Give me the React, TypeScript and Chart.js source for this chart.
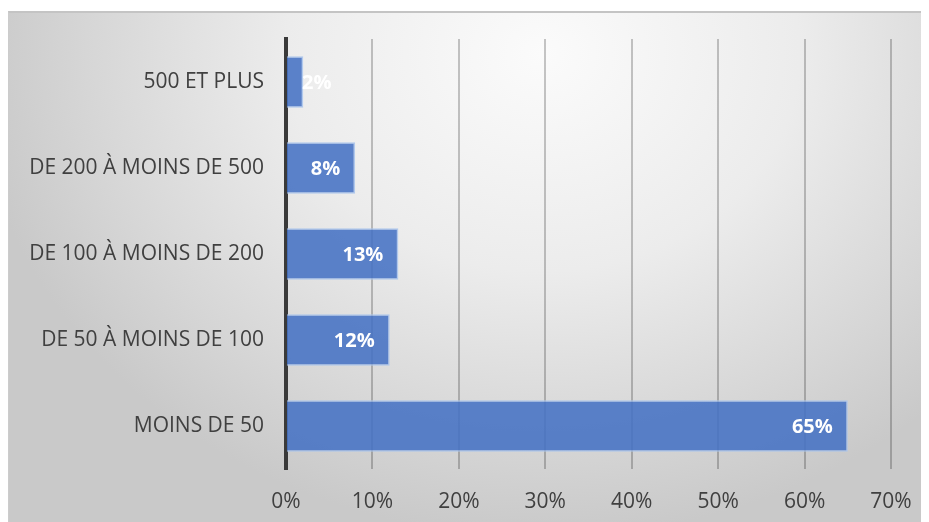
import React, { useEffect, useRef } from "react";
import { Chart, registerables } from "chart.js";

Chart.register(...registerables);

// Taille des entreprises (répartition en %)
const categories = [
  "500 ET PLUS",
  "DE 200 À MOINS DE 500",
  "DE 100 À MOINS DE 200",
  "DE 50 À MOINS DE 100",
  "MOINS DE 50",
];
const shares = [2, 8, 13, 12, 65];
const xTicks = [0, 10, 20, 30, 40, 50, 60, 70];

const FONT = "'Open Sans', 'Noto Sans', sans-serif";

// White value labels at the inner end of each bar
const valueLabels = {
  id: "valueLabels",
  afterDatasetsDraw(chart: any) {
    const { ctx } = chart;
    const meta = chart.getDatasetMeta(0);
    const x0 = chart.scales.x.getPixelForValue(0);
    ctx.save();
    ctx.font = `bold 20px ${FONT}`;
    ctx.fillStyle = "#ffffff";
    ctx.textBaseline = "middle";
    ctx.textAlign = "right";
    meta.data.forEach((bar: any, i: number) => {
      const text = `${shares[i]}%`;
      const w = ctx.measureText(text).width;
      const right = Math.max(bar.x - 15, x0 + 16 + w);
      ctx.fillText(text, right, bar.y + 1);
    });
    ctx.restore();
  },
};

export default function App() {
  const ref = useRef<HTMLCanvasElement>(null);

  useEffect(() => {
    if (!ref.current) return;
    const chart = new Chart(ref.current, {
      type: "bar",
      data: {
        labels: categories,
        datasets: [
          {
            data: shares,
            backgroundColor: "rgba(70, 114, 196, 0.88)",
            borderColor: "rgba(170, 196, 236, 0.9)",
            borderWidth: 1.5,
            categoryPercentage: 1,
            barPercentage: 0.6,
          },
        ],
      },
      options: {
        indexAxis: "y",
        animation: false,
        responsive: false,
        maintainAspectRatio: false,
        layout: { padding: { top: 28, right: 38, left: 0, bottom: 0 } },
        plugins: {
          legend: { display: false },
          tooltip: { enabled: false },
        },
        scales: {
          x: {
            min: 0,
            max: 70,
            afterBuildTicks(scale: any) {
              scale.ticks = xTicks.map((v) => ({ value: v }));
            },
            afterFit(scale: any) {
              scale.height = 53;
              scale.paddingLeft = 0;
              scale.paddingRight = 0;
            },
            grid: {
              color: "rgba(0,0,0,0.22)",
              lineWidth: 2,
              drawTicks: false,
            },
            border: { display: false },
            ticks: {
              padding: 20,
              color: "#404040",
              font: { family: FONT, size: 21 },
              callback: (v: any) => `${v}%`,
            },
          },
          y: {
            afterFit(scale: any) {
              scale.width = 278;
              scale.paddingTop = 0;
              scale.paddingBottom = 0;
            },
            grid: { display: false, drawTicks: false },
            border: { display: true, color: "#3a3a3a", width: 4 },
            ticks: {
              padding: 22,
              color: "#404040",
              font: { family: FONT, size: 21 },
            },
          },
        },
      },
      plugins: [valueLabels],
    });
    return () => chart.destroy();
  }, []);

  return (
    <div
      style={{
        marginTop: 3,
        width: 921,
        height: 511,
        boxSizing: "border-box",
        borderTop: "2px solid #c4c4c4",
        borderLeft: "1px solid #cccccc",
        background:
          "radial-gradient(ellipse 62% 95% at 58% 8%, #fbfbfb 0%, #ececec 45%, #d6d6d6 80%, #c9c9c9 100%)",
        position: "relative",
      }}
    >
      <canvas
        ref={ref}
        width={921}
        height={511}
        style={{ position: "absolute", left: -1, top: -2, display: "block" }}
      />
    </div>
  );
}
